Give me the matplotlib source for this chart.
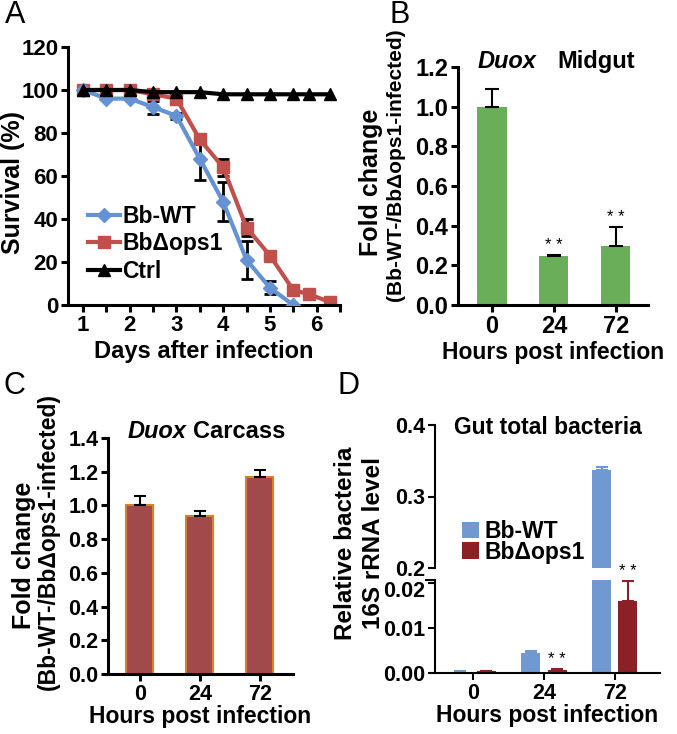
import numpy as np
import matplotlib.pyplot as plt
import matplotlib.transforms as mtransforms

plt.rcParams['font.family'] = ['Liberation Sans', 'DejaVu Sans']
plt.rcParams['font.weight'] = 'bold'
plt.rcParams['axes.labelweight'] = 'bold'

# ---------------- data ----------------
# A: survival
days = [1, 1.5, 2, 2.5, 3, 3.5, 4, 4.5, 5, 5.5, 5.83, 6.28]
wt_surv = [100, 96, 96, 92, 88, 68, 48, 21, 8, 0]
wt_err = [0, 0, 0, 3, 1.5, 10, 9, 9, 3, 0]
ops_surv = [100, 100, 100, 98, 96, 77, 64, 36, 23, 7, 5, 1.5]
ops_err = [0, 0, 0, 1, 1, 1, 4, 4, 1, 1, 1, 2]
ctrl_surv = [100, 100, 100, 99, 99, 99, 98, 98, 98, 98, 98, 98]

# B: Duox midgut
hours = ['0', '24', '72']
midgut = [1.0, 0.245, 0.295]
midgut_err = [0.09, 0.005, 0.1]

# C: Duox carcass
carcass = [1.0, 0.94, 1.17]
carcass_err = [0.055, 0.025, 0.04]

# D: gut total bacteria
bact_wt = [0.0003, 0.0045, 0.337]
bact_wt_err = [0.0001, 0.0003, 0.004]
bact_ops = [0.0004, 0.0007, 0.016]
bact_ops_err = [0.0001, 0.0001, 0.0045]

W, H = 677, 734
fig = plt.figure(figsize=(W / 100, H / 100), dpi=100)


def box(l, r, t, b):
    return [l / W, 1 - b / H, (r - l) / W, (b - t) / H]


def style(ax, lw=2.2, fs=15):
    for s in ['top', 'right']:
        ax.spines[s].set_visible(False)
    for s in ['left', 'bottom']:
        ax.spines[s].set_linewidth(lw)
    ax.tick_params(width=lw, length=5, labelsize=fs, direction='out', pad=2)


def vlabel(x, y, s, fs):
    fig.text(x / W, 1 - y / H, s, rotation=90, fontsize=fs, ha='center', va='center')


blue = '#6592d2'
red = '#c1504c'

# ---------------- A ----------------
axA = fig.add_axes(box(68, 340, 47, 305))
style(axA, fs=16)
n = len(wt_surv)
l1, = axA.plot(days[:n], wt_surv, color=blue, lw=3, marker='D', ms=7, label='Bb-WT', zorder=3)
l2, = axA.plot(days, ops_surv, color=red, lw=3, marker='s', ms=9, label='Bb\u0394ops1', zorder=2)
l3, = axA.plot(days, ctrl_surv, color='black', lw=3, marker='^', ms=8, label='Ctrl', zorder=4)
axA.errorbar(days[:n], wt_surv, yerr=wt_err, fmt='none', ecolor='black', elinewidth=2,
             capsize=4, capthick=2, zorder=1)
axA.errorbar(days, ops_surv, yerr=ops_err, fmt='none', ecolor='black', elinewidth=2,
             capsize=4, capthick=2, zorder=1)
axA.set_xlim(0.68, 6.42)
axA.set_ylim(0, 120)
axA.set_yticks(np.arange(0, 121, 20))
xt = np.arange(1, 6.6, 0.5)
axA.set_xticks(xt)
axA.set_xticklabels([str(int(t)) if t == int(t) else '' for t in xt])
axA.legend([l1, l2, l3], ['Bb-WT', 'Bb\u0394ops1', 'Ctrl'], loc='lower left',
           bbox_to_anchor=(0.04, 0.05), frameon=False, fontsize=16.5, handlelength=1.4,
           handletextpad=0.1, labelspacing=0.2, borderaxespad=0)
axA.set_xlabel('Days after infection', fontsize=17, labelpad=3)
vlabel(13, 182, 'Survival (%)', 18)

# ---------------- B ----------------
axB = fig.add_axes(box(458, 648, 67, 305))
style(axB, fs=17)
xb = np.arange(3)
axB.bar(xb, midgut, width=0.47, color='#6aae5a')
axB.errorbar(xb, midgut, yerr=[np.zeros(3), midgut_err], fmt='none', ecolor='black',
             elinewidth=1.5, capsize=5, capthick=1.5)
axB.set_xlim(-0.55, 2.52)
axB.set_ylim(0, 1.2)
axB.set_yticks(np.arange(0, 1.21, 0.2))
axB.set_yticklabels(['%.1f' % v for v in np.arange(0, 1.21, 0.2)])
axB.set_xticks(xb)
axB.set_xticklabels(hours)
axB.set_xlabel('Hours post infection', fontsize=16.5, labelpad=2)
for i in [1, 2]:
    axB.text(xb[i], midgut[i] + midgut_err[i] + 0.01, '* *', ha='center', va='bottom',
             fontsize=12, fontweight='normal')
fig.text(478 / W, 1 - 68 / H, 'Duox', fontsize=17, style='italic', ha='left', va='baseline')
fig.text(557 / W, 1 - 68 / H, 'Midgut', fontsize=17, ha='left', va='baseline')
vlabel(371, 182, 'Fold change', 18)
vlabel(396, 165, '(Bb-WT-/Bb\u0394ops1-infected)', 15)

# ---------------- C ----------------
axC = fig.add_axes(box(108, 293, 438, 674))
style(axC, fs=15.5)
axC.bar(xb, carcass, width=0.45, color='#a04a4c', edgecolor='#d4822e', linewidth=1.5)
axC.errorbar(xb, carcass, yerr=[np.zeros(3), carcass_err], fmt='none', ecolor='black',
             elinewidth=1.5, capsize=4, capthick=1.5)
axC.set_xlim(-0.53, 2.55)
axC.set_ylim(0, 1.4)
axC.set_yticks(np.arange(0, 1.41, 0.2))
axC.set_yticklabels(['%.1f' % v for v in np.arange(0, 1.41, 0.2)])
axC.set_xticks(xb)
axC.set_xticklabels(hours)
axC.set_xlabel('Hours post infection', fontsize=16.5, labelpad=0)
fig.text(128 / W, 1 - 438 / H, 'Duox', fontsize=17, style='italic', ha='left', va='baseline')
fig.text(193 / W, 1 - 438 / H, 'Carcass', fontsize=17, ha='left', va='baseline')
vlabel(24, 555, 'Fold change', 18)
vlabel(48, 541, '(Bb-WT-/Bb\u0394ops1-infected)', 16.5)

# ---------------- D ----------------
dblue = '#7099d2'
dred = '#8b2127'
off, bw = 0.185, 0.27
axD = fig.add_axes(box(435, 660, 580, 673))
axD2 = fig.add_axes(box(435, 660, 425, 568))
for ax in (axD, axD2):
    ax.bar(xb - off, bact_wt, width=bw, color=dblue, label='Bb-WT')
    ax.bar(xb + off, bact_ops, width=bw, color=dred, label='Bb\u0394ops1')
    ax.errorbar(xb - off, bact_wt, yerr=[np.zeros(3), bact_wt_err], fmt='none',
                ecolor=dblue, elinewidth=1.5, capsize=4, capthick=1.5)
    ax.errorbar(xb + off, bact_ops, yerr=[np.zeros(3), bact_ops_err], fmt='none',
                ecolor=dred, elinewidth=1.5, capsize=4, capthick=1.5)
    ax.set_xlim(-0.54, 2.64)
    style(ax, lw=1.5, fs=15.5)
axD.set_ylim(0, 0.0207)
axD.set_yticks([0, 0.01, 0.02])
axD.set_yticklabels(['0.00', '0.01', '0.02'])
# the 0.02 label sits a little lower than its tick, below the axis break
lab = axD.get_yticklabels()[2]
lab.set_transform(lab.get_transform() + mtransforms.ScaledTranslation(0, -6 / 100, fig.dpi_scale_trans))
axD.set_xticks(xb)
axD.set_xticklabels(hours)
axD.plot([-0.04, 0], [1, 1], transform=axD.transAxes, color='black', lw=1.5, clip_on=False)
axD.set_xlabel('Hours post infection', fontsize=16.5, labelpad=0)
for i in [1, 2]:
    axD.text(xb[i] + off, bact_ops[i] + bact_ops_err[i] + 0.0005, '* *', ha='center',
             va='bottom', fontsize=12, fontweight='normal')

axD2.set_ylim(0.2, 0.4)
axD2.set_yticks([0.2, 0.3, 0.4])
axD2.set_yticklabels(['0.2', '0.3', '0.4'])
axD2.spines['bottom'].set_visible(False)
axD2.set_xticks([])
axD2.patch.set_visible(False)
fig.text(548 / W, 1 - 427 / H, 'Gut total bacteria', fontsize=16.5, ha='center', va='center')
axD2.legend(loc='upper left', bbox_to_anchor=(0.12, 0.335), frameon=False, fontsize=16.5,
            handlelength=0.75, handleheight=0.75, handletextpad=0.25, labelspacing=-0.1,
            borderaxespad=0, borderpad=0)
vlabel(346, 543, 'Relative bacteria', 17.5)
vlabel(373, 543, '16S rRNA level', 17.5)

# panel letters
for x, y, s in [(15, 15, 'A'), (400, 15, 'B'), (14, 386, 'C'), (348, 386, 'D')]:
    fig.text(x / W, 1 - y / H, s, fontsize=22, fontweight='normal', ha='center', va='center')

fig.savefig('out.png', dpi=100)
